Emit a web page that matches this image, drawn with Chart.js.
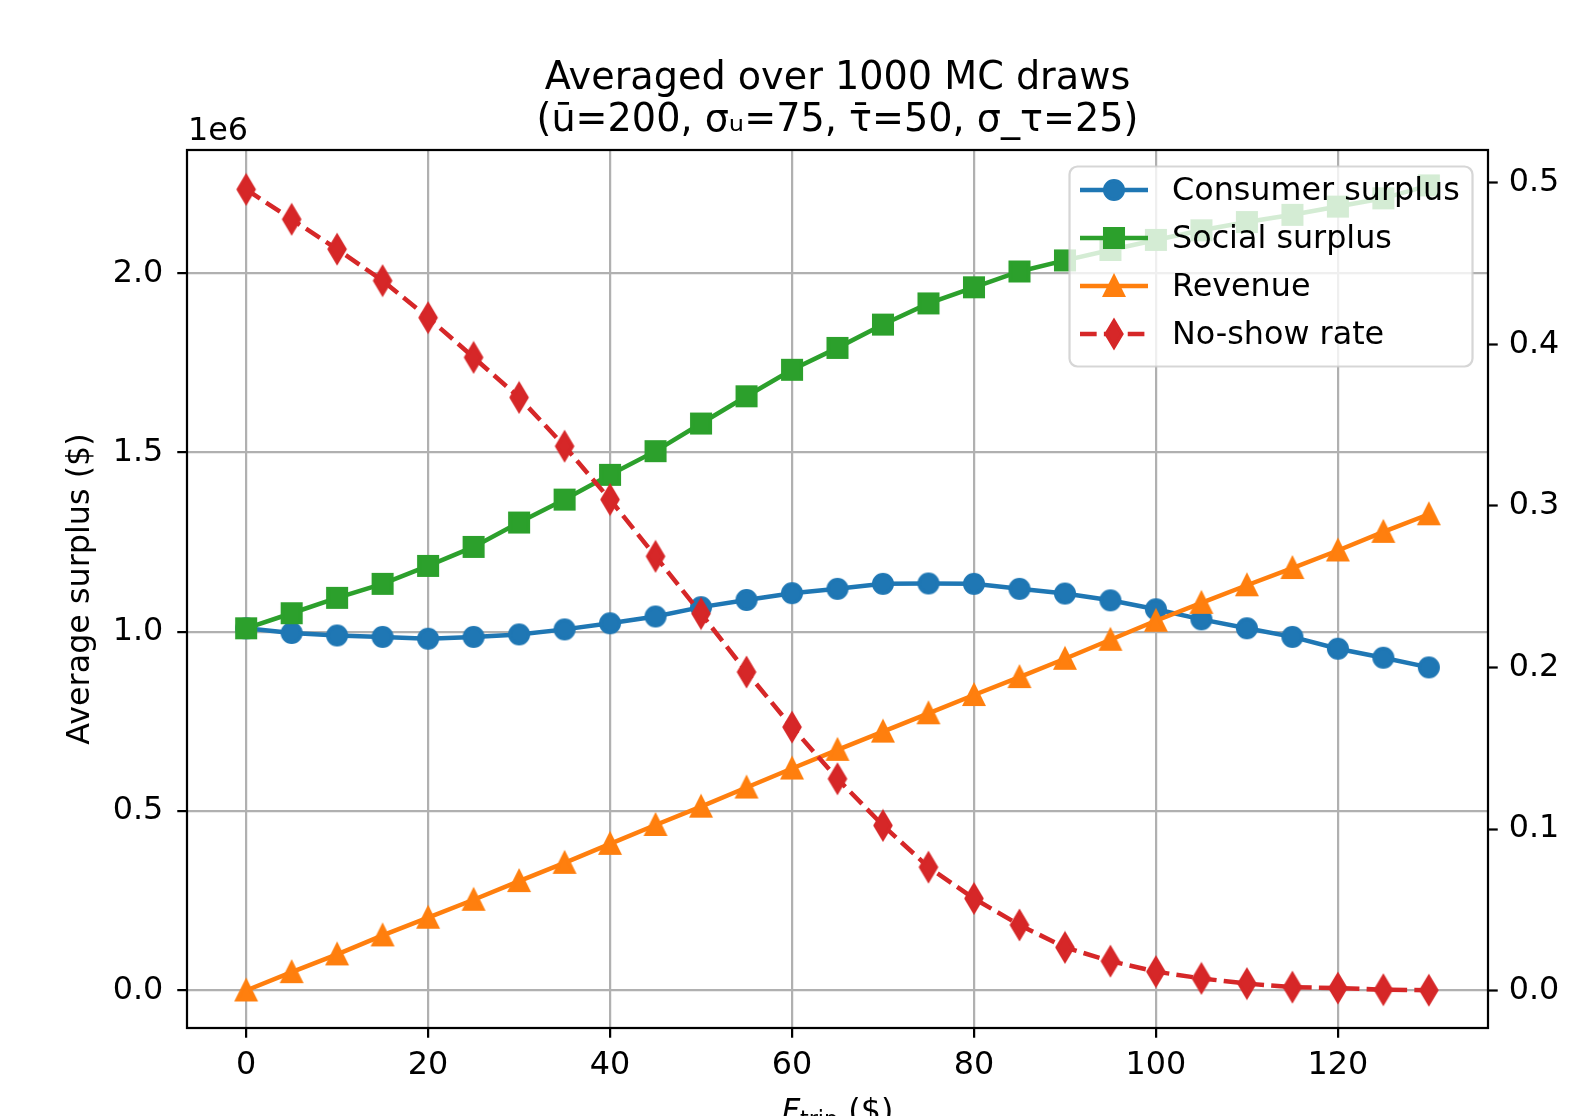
<!DOCTYPE html>
<html>
<head>
<meta charset="utf-8">
<script src="https://cdn.jsdelivr.net/npm/chart.js@4.4.1/dist/chart.umd.min.js"></script>
<style>
html,body{margin:0;padding:0;background:#ffffff;}
#wrap{width:1569px;height:1116px;position:relative;}
</style>
</head>
<body>
<div id="wrap"><canvas id="c"></canvas></div>
<script>
// ---------------- data ----------------
const fares = [0,5,10,15,20,25,30,35,40,45,50,55,60,65,70,75,80,85,90,95,100,105,110,115,120,125,130];
const consumerSurplus = [1010000,997000,990000,986000,981000,986000,993000,1007000,1024000,1043000,1069000,1089000,1108000,1120000,1134000,1135000,1134000,1120000,1107000,1088000,1063000,1035000,1010000,986000,953000,928000,901000];
const socialSurplus = [1010000,1052000,1095000,1134000,1184000,1237000,1305000,1369000,1438000,1504000,1581000,1657000,1731000,1792000,1857000,1916000,1961000,2005000,2036000,2065000,2093000,2120000,2143000,2163000,2186000,2209000,2245000];
const revenue = [0,51200,100600,153600,203000,253000,305000,356000,409000,461500,512600,566000,619000,671000,722000,773000,824000,874000,925000,978000,1031000,1081000,1130000,1178000,1227000,1279000,1328000];
const noShowRate = [0.496,0.4775,0.459,0.4395,0.4166,0.392,0.3672,0.337,0.304,0.2688,0.2334,0.1972,0.1631,0.1311,0.1022,0.0764,0.057,0.0406,0.0267,0.0182,0.0117,0.0075,0.0043,0.0021,0.0015,0.0005,0.0002];

const seriesNames = ['Consumer surplus','Social surplus','Revenue','No-show rate'];
const xTicks = [0,20,40,60,80,100,120];
const leftTicks = [0,500000,1000000,1500000,2000000];
const rightTicks = [0,0.1,0.2,0.3,0.4,0.5];
const titleLines = ['Averaged over 1000 MC draws','(ū=200, σᵤ=75, τ̄=50, σ_τ=25)'];
const offsetLabel = '1e6';
const yTitle = 'Average surplus ($)';

// ---------------- styling ----------------
const PT = 2.78;             // px per point (lines, grid)
const TXT = 3.18;            // px per point (text)
const MK = 3.15;             // px per point (markers)
const FONT = 'DejaVu Sans';
const colors = ['#1f77b4','#2ca02c','#ff7f0e','#d62728'];
const shapes = ['o','s','^','d'];

function makeMarker(shape, color){
  const ms = 6*MK, ew = 1*MK;
  const size = 34;
  const c = document.createElement('canvas');
  c.width = size; c.height = size;
  const g = c.getContext('2d');
  g.translate(size/2, size/2);
  g.beginPath();
  if (shape === 'o') { g.arc(0,0,ms/2,0,Math.PI*2); }
  else if (shape === 's') { g.rect(-ms/2,-ms/2,ms,ms); }
  else if (shape === '^') { g.moveTo(0,-ms/2); g.lineTo(ms/2,ms/2); g.lineTo(-ms/2,ms/2); g.closePath(); }
  else if (shape === 'd') { const h = ms*Math.SQRT2/2, w = 0.6*h; g.moveTo(0,-h); g.lineTo(w,0); g.lineTo(0,h); g.lineTo(-w,0); g.closePath(); }
  g.fillStyle = color; g.fill();
  g.lineWidth = ew; g.strokeStyle = color; g.lineJoin = 'miter'; g.stroke();
  return c;
}
const markers = shapes.map((s,i)=>makeMarker(s, colors[i]));

const toPts = arr => arr.map((v,i)=>({x:fares[i], y:v}));
const seriesValues = [consumerSurplus, socialSurplus, revenue, noShowRate];

const LW = 1.5*PT*1.08;
const datasets = seriesValues.map((vals,i)=>({
  label: seriesNames[i],
  data: toPts(vals),
  yAxisID: i === 3 ? 'y2' : 'y',
  borderColor: colors[i],
  backgroundColor: colors[i],
  borderWidth: LW,
  borderDash: i === 3 ? [3.7*LW, 1.6*LW] : [],
  pointStyle: markers[i],
  pointRadius: 9,
  pointHoverRadius: 9,
  tension: 0,
  order: 4 - i,
  clip: 20
}));

const fontStr = (pt, style) => (style ? style + ' ' : '') + (pt*TXT) + 'px "' + FONT + '"';

const deco = {
  id: 'deco',
  afterDatasetsDraw(chart){
    const ctx = chart.ctx, a = chart.chartArea;
    ctx.save();
    // spines
    ctx.strokeStyle = '#000'; ctx.lineWidth = 0.8*PT; ctx.setLineDash([]);
    ctx.strokeRect(a.left, a.top, a.right - a.left, a.bottom - a.top);
    // legend
    const L = {left:1069.5, top:166.5, right:1472.5, bottom:366.5, r:8};
    ctx.beginPath();
    ctx.moveTo(L.left + L.r, L.top);
    ctx.arcTo(L.right, L.top, L.right, L.bottom, L.r);
    ctx.arcTo(L.right, L.bottom, L.left, L.bottom, L.r);
    ctx.arcTo(L.left, L.bottom, L.left, L.top, L.r);
    ctx.arcTo(L.left, L.top, L.right, L.top, L.r);
    ctx.closePath();
    ctx.fillStyle = 'rgba(255,255,255,0.8)'; ctx.fill();
    ctx.strokeStyle = 'rgba(204,204,204,0.8)'; ctx.lineWidth = 0.8*PT; ctx.stroke();
    const rows = [190, 238, 286, 334];
    const x0 = 1080, x1 = 1148, xm = (x0 + x1)/2, tx = 1172;
    chart.data.datasets.forEach((ds,i)=>{
      const y = rows[i];
      ctx.beginPath();
      ctx.setLineDash(ds.borderDash);
      ctx.lineWidth = ds.borderWidth; ctx.strokeStyle = ds.borderColor;
      ctx.moveTo(x0, y); ctx.lineTo(x1, y); ctx.stroke();
      ctx.setLineDash([]);
      const m = ds.pointStyle;
      ctx.drawImage(m, xm - m.width/2, y - m.height/2);
      ctx.fillStyle = '#000'; ctx.font = fontStr(10);
      ctx.textAlign = 'left'; ctx.textBaseline = 'middle';
      ctx.fillText(ds.label, tx, y + 2);
    });
    ctx.restore();
  },
  afterDraw(chart){
    const ctx = chart.ctx, a = chart.chartArea;
    const cx = (a.left + a.right)/2;
    ctx.save();
    ctx.fillStyle = '#000';
    // title
    ctx.font = fontStr(12);
    ctx.textAlign = 'center'; ctx.textBaseline = 'alphabetic';
    ctx.fillText(titleLines[0], cx, 89);
    ctx.fillText(titleLines[1], cx, 131);
    // offset text
    ctx.font = fontStr(10);
    ctx.textAlign = 'left';
    ctx.fillText(offsetLabel, a.left + 1, 140);
    // y title
    ctx.save();
    ctx.translate(81, (a.top + a.bottom)/2);
    ctx.rotate(-Math.PI/2);
    ctx.textAlign = 'center'; ctx.textBaseline = 'middle';
    ctx.fillText(yTitle, 0, 0);
    ctx.restore();
    // x title: F_trip ($)
    const partF = 'F', partSub = 'trip', partRest = ' ($)';
    ctx.font = fontStr(10, 'italic');
    const wF = ctx.measureText(partF).width;
    ctx.font = fontStr(7);
    const wS = ctx.measureText(partSub).width;
    ctx.font = fontStr(10);
    const wR = ctx.measureText(partRest).width;
    let x = cx - (wF + wS + wR)/2;
    const base = 1121;
    ctx.textAlign = 'left';
    ctx.font = fontStr(10, 'italic');
    ctx.fillText(partF, x, base); x += wF;
    ctx.font = fontStr(7);
    ctx.fillText(partSub, x, base + 6); x += wS;
    ctx.font = fontStr(10);
    ctx.fillText(partRest, x, base);
    ctx.restore();
  }
};

const setTicks = arr => (scale) => { scale.ticks = arr.map(v=>({value:v})); };
const tickFont = {family: FONT, size: 10*TXT};

new Chart(document.getElementById('c'), {
  type: 'line',
  data: { datasets },
  options: {
    responsive: true,
    maintainAspectRatio: false,
    devicePixelRatio: 1,
    animation: false,
    events: [],
    layout: { padding: { top: 150, left: 0, right: 0, bottom: 0 } },
    plugins: { legend: {display:false}, title: {display:false}, tooltip: {enabled:false} },
    scales: {
      x: {
        type: 'linear', position: 'bottom',
        min: -6.5, max: 136.5,
        afterBuildTicks: setTicks(xTicks),
        afterFit: s => { s.height = 88; },
        grid: { color: '#b0b0b0', lineWidth: 0.8*PT, drawTicks: true, tickLength: 3.5*PT, tickColor: '#000', tickWidth: 0.8*PT },
        border: { display: false },
        ticks: { color: '#000', font: tickFont, padding: 9, maxRotation: 0, autoSkip: false, callback: v => String(v) }
      },
      y: {
        type: 'linear', position: 'left',
        min: -104600, max: 2343800,
        afterBuildTicks: setTicks(leftTicks),
        afterFit: s => { s.width = 187; },
        grid: { color: '#b0b0b0', lineWidth: 0.8*PT, drawTicks: true, tickLength: 3.5*PT, tickColor: '#000', tickWidth: 0.8*PT },
        border: { display: false },
        ticks: { color: '#000', font: tickFont, padding: 14, autoSkip: false, callback: v => (v/1e6).toFixed(1) }
      },
      y2: {
        type: 'linear', position: 'right',
        min: -0.0232, max: 0.5204,
        afterBuildTicks: setTicks(rightTicks),
        afterFit: s => { s.width = 81; },
        grid: { drawOnChartArea: false, drawTicks: true, tickLength: 3.5*PT, tickColor: '#000', tickWidth: 0.8*PT },
        border: { display: false },
        ticks: { color: '#000', font: tickFont, padding: 11, autoSkip: false, callback: v => v.toFixed(1) }
      }
    }
  },
  plugins: [deco]
});
</script>
</body>
</html>
